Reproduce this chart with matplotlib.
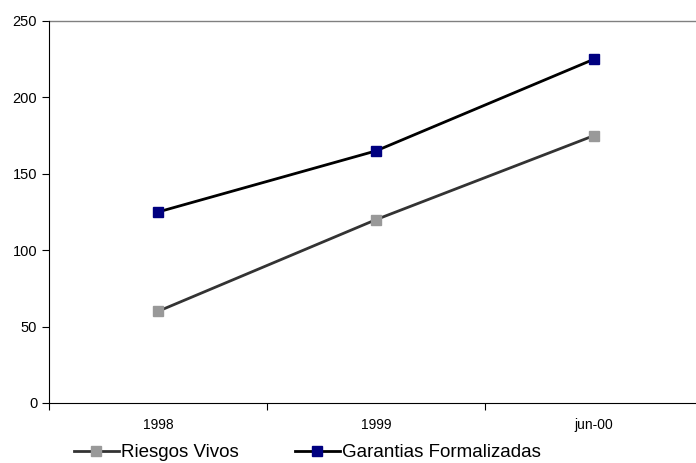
import matplotlib as mpl
import matplotlib.pyplot as plt

mpl.rcParams.update({
    "font.family": ["Liberation Sans", "DejaVu Sans"],
    "font.size": 10,
})

CATS = ["1998", "1999", "jun-00"]
RIESGOS = [60, 120, 175]
GARANTIAS = [125, 165, 225]
YTICKS = [0, 50, 100, 150, 200, 250]

fig = plt.figure(figsize=(6.96, 4.63), dpi=100)
ax = fig.add_axes([49 / 696, 1 - 403 / 463, 654 / 696, 382 / 463])

xs = range(len(CATS))
ax.plot(xs, RIESGOS, color="#333333", lw=2.0, marker="s", ms=7,
        mfc="#999999", mec="#999999", label="Riesgos Vivos", zorder=3)
ax.plot(xs, GARANTIAS, color="black", lw=2.0, marker="s", ms=7,
        mfc="#000080", mec="#000080", label="Garantias Formalizadas", zorder=3)

ax.set_xlim(-0.5, len(CATS) - 0.5)
ax.set_ylim(0, 250)
ax.set_yticks(YTICKS)
ax.set_xticks([i + 0.5 for i in range(-1, len(CATS))], minor=False)
ax.set_xticklabels([])
ax.set_xticks(list(xs), minor=True)
ax.set_xticklabels(CATS, minor=True)
ax.tick_params(axis="x", which="major", length=5, direction="out", color="black")
ax.tick_params(axis="x", which="minor", length=0, pad=11, labelsize=10)
ax.tick_params(axis="y", length=5, direction="out", labelsize=10.5)

for s in ["right", "top"]:
    ax.spines[s].set_visible(False)
ax.spines["left"].set_color("black")
ax.spines["bottom"].set_color("black")
ax.axhline(250, color="#808080", lw=1.0, clip_on=False)

fig.legend(loc="lower left", bbox_to_anchor=(70 / 696, -0.004), ncol=2, frameon=False,
           fontsize=13.5, handlelength=2.4, handletextpad=0.1, columnspacing=3.0,
           borderaxespad=0, borderpad=0.2)

fig.savefig("out.png", dpi=100)
